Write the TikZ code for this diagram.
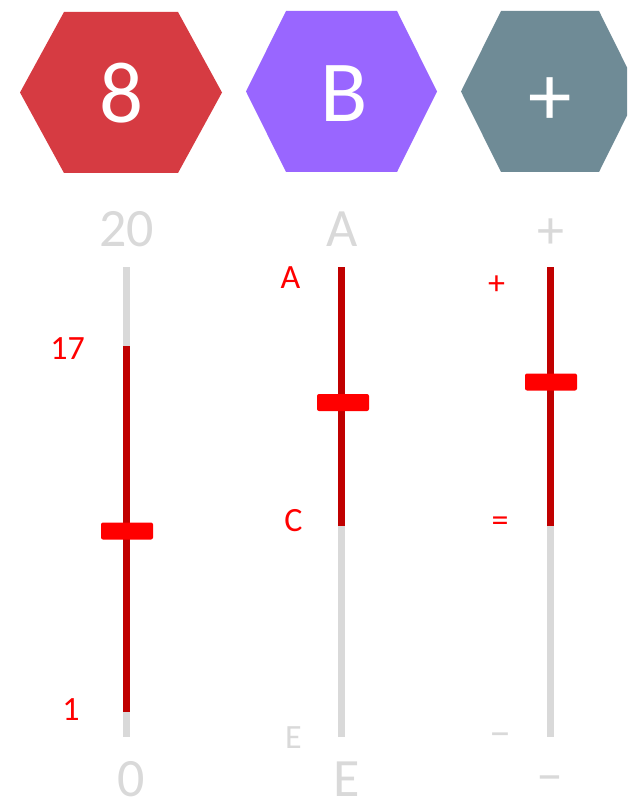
\documentclass[tikz,border=0pt]{standalone}
\usepackage{fontspec}
\setmainfont{Carlito}
\usetikzlibrary{positioning}
\definecolor{hexred}{HTML}{D63B42}
\definecolor{hexpurple}{HTML}{9966FF}
\definecolor{hexslate}{HTML}{6F8B96}
\definecolor{railgrey}{HTML}{D9D9D9}
\definecolor{raildark}{HTML}{C00000}
\definecolor{knobred}{HTML}{FF0000}
\tikzset{
  hexglyph/.style={font=\fontsize{87}{87}\selectfont, text=white, inner sep=0pt, anchor=base},
  endlabel/.style={font=\fontsize{54}{54}\selectfont, text=railgrey, inner sep=0pt, anchor=base},
  ticklabel/.style={font=\fontsize{34}{34}\selectfont, text=knobred, inner sep=0pt, anchor=base},
  tickgrey/.style={ticklabel, text=railgrey},
  greyrail/.style={draw=railgrey, line width=7pt},
  redrail/.style={draw=raildark, line width=7pt},
  knob/.style={fill=knobred, rounded corners=2pt, minimum width=52pt,
    minimum height=17pt, inner sep=0pt}
}

\begin{document}
\begin{tikzpicture}[x=1pt,y=-1pt]
  \useasboundingbox (0,0) rectangle (627,799);
  \clip (0,0) rectangle (627,799);

  % badges
  \fill[hexred] (20,92.5) -- (64,12) -- (178,12) -- (222,92.5) -- (178,173) -- (64,173) -- cycle;
  \fill[hexpurple] (246,91.5) -- (286,11) -- (397,11) -- (437,91.5) -- (397,172) -- (286,172) -- cycle;
  \fill[hexslate] (461,91.5) -- (501,11) -- (599,11) -- (639,91.5) -- (599,172) -- (501,172) -- cycle;
  \node[hexglyph] (badgeA) at (122,123) {8};
  \node[hexglyph] (badgeB) at (344.5,122) {B};
  \node[hexglyph] (badgeC) at (550.5,126) {+};

  % range ends
  \node[endlabel] (maxA) at (126.5,247) {20};
  \node[endlabel] (maxB) at (342,247) {A};
  \node[endlabel] (maxC) at (550.5,249) {+};
  \node[endlabel] (minA) at (131,796) {0};
  \node[endlabel] (minB) at (347,796) {E};
  \node[endlabel] (minC) at (550,792) {–};

  % rails
  \coordinate (topA) at (126,267);
  \coordinate (hiA) at (126,346);
  \coordinate (loA) at (126,712);
  \coordinate (botA) at (126,737);
  \coordinate (topB) at (341.5,267);
  \coordinate (loB) at (341.5,526);
  \coordinate (botB) at (341.5,737);
  \coordinate (topC) at (550,267);
  \coordinate (loC) at (550,526);
  \coordinate (botC) at (550,737);
  \draw[greyrail] (topA) -- (botA);
  \draw[redrail] (hiA) -- (loA);
  \draw[greyrail] (loB) -- (botB);
  \draw[redrail] (topB) -- (loB);
  \draw[greyrail] (loC) -- (botC);
  \draw[redrail] (topC) -- (loC);

  % knobs
  \node[knob] (knobA) at (127,531) {};
  \node[knob] (knobB) at (343,402.5) {};
  \node[knob] (knobC) at (551,382) {};

  % selected range
  \node[ticklabel] (hiLabelA) at (67.5,359) {17};
  \node[ticklabel] (loLabelA) at (71,720) {1};
  \node[ticklabel] (hiLabelB) at (290.5,288) {A};
  \node[ticklabel] (loLabelB) at (293.5,531) {C};
  \node[tickgrey] (endLabelB) at (293.5,748) {E};
  \node[ticklabel] (hiLabelC) at (496.5,294) {+};
  \node[ticklabel] (loLabelC) at (500,531) {=};
  \node[tickgrey, font=\fontsize{44}{44}\selectfont] (endLabelC) at (500,746) {–};
\end{tikzpicture}
\end{document}
